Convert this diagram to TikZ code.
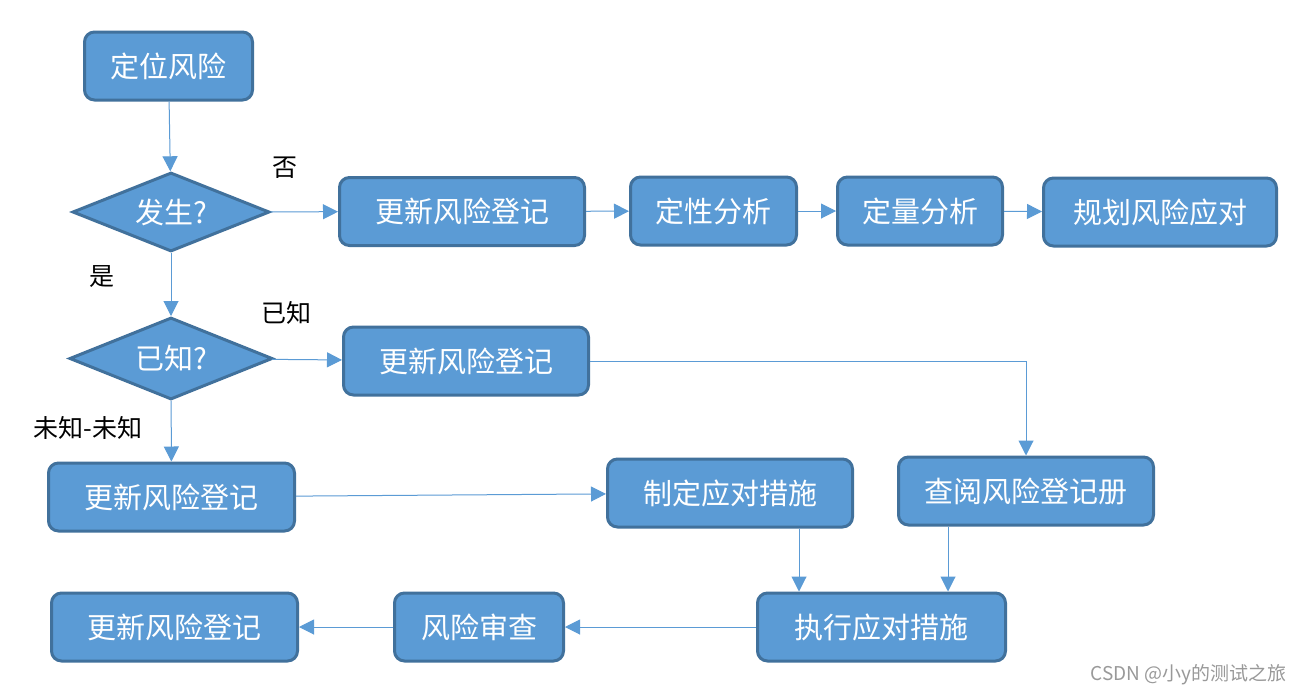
\documentclass[tikz,border=0pt]{standalone}
\usepackage{fontspec}
\setmainfont{Noto Sans CJK SC}
\usetikzlibrary{arrows.meta,shapes.geometric}
\definecolor{boxfill}{HTML}{5B9BD5}
\definecolor{boxline}{HTML}{41719C}
\definecolor{arrowline}{HTML}{5B9BD5}

\begin{document}
\begin{tikzpicture}[x=1pt,y=-1pt]
\useasboundingbox[fill=white] (0,0) rectangle (1304,694);
\begin{scope}[every node/.style={rectangle,rounded corners=10pt,draw=boxline,line width=3pt,fill=boxfill,text=white,font=\fontsize{29}{32}\selectfont,minimum height=68pt,inner sep=0pt}]
	\node[minimum width=168pt] (locate) at (168.5,66) {定位风险};
	\node[diamond,aspect=2.4,rounded corners=0pt,minimum width=197pt,minimum height=79pt] (occur) at (171,212) {发生?};
	\node[minimum width=245pt] (upd1) at (462,211.5) {更新风险登记};
	\node[minimum width=166pt] (quali) at (713.5,211) {定性分析};
	\node[minimum width=165pt] (quanti) at (920,211) {定量分析};
	\node[minimum width=233pt] (plan) at (1160,212) {规划风险应对};

	\node[diamond,aspect=2.4,rounded corners=0pt,minimum width=203pt,minimum height=82pt] (known) at (171,358.5) {已知?};
	\node[minimum width=245pt] (upd2) at (466,361) {更新风险登记};

	\node[minimum width=246pt] (upd3) at (171.5,497) {更新风险登记};
	\node[minimum width=245pt] (measure) at (730,493) {制定应对措施};
	\node[minimum width=255pt] (review) at (1026,491) {查阅风险登记册};

	\node[minimum width=248pt] (exec) at (881.5,627) {执行应对措施};
	\node[minimum width=169pt] (audit) at (479,627) {风险审查};
	\node[minimum width=246pt] (upd4) at (174.5,627) {更新风险登记};
\end{scope}

\begin{scope}[every node/.style={font=\fontsize{25}{28}\selectfont}]
	\node (no) at (285,168) {否};
	\node (yes) at (102,277) {是};
	\node (isknown) at (286,313) {已知};
	\node (unknown) at (88,428) {未知-未知};
\end{scope}

\node[text=gray!80,font=\fontsize{19}{21}\selectfont,anchor=east] (mark) at (1290,675) {CSDN @小y的测试之旅};

\begin{scope}[-{Triangle[length=15pt,width=15pt]},draw=arrowline,line width=1pt]
	\draw (locate) -- (occur);
	\draw (occur) -- (upd1);
	\draw (upd1) -- (quali);
	\draw (quali) -- (quanti);
	\draw (quanti) -- (plan);
	\draw (occur) -- (known);
	\draw (known) -- (upd2);
	\draw (known) -- (upd3);
	\draw (upd2.east) -| (review.north);
	\draw (upd3) -- (measure);
	\draw ([xshift=69pt]measure.south) -- ([xshift=69pt]measure.south |- exec.north);
	\draw ([xshift=-78pt]review.south) -- ([xshift=-78pt]review.south |- exec.north);
	\draw (exec) -- (audit);
	\draw (audit) -- (upd4);
\end{scope}

\end{tikzpicture}
\end{document}
